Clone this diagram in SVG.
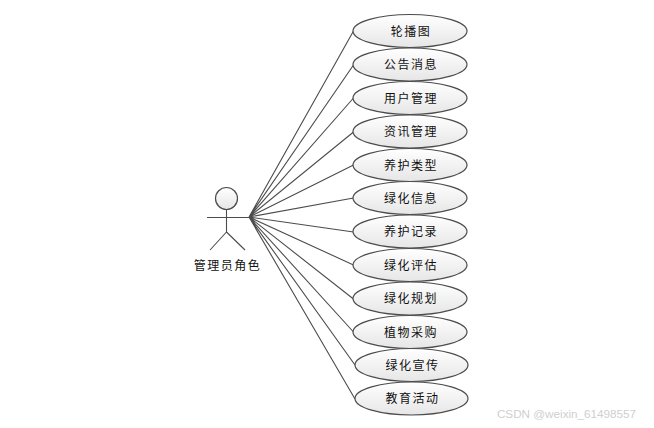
<svg xmlns="http://www.w3.org/2000/svg" width="654" height="428" viewBox="0 0 654 428">
<style>
.u{fill:url(#g);stroke:#4c4c4c;stroke-width:1.2}
.l{stroke:#4c4c4c;stroke-width:1.1;fill:none}
text{font-family:"Noto Sans CJK SC","Liberation Sans",sans-serif;font-size:12px;letter-spacing:1.5px;text-anchor:middle;fill:#111}
</style>
<defs>
<linearGradient id="g" x1="0" y1="0" x2="0" y2="1"><stop offset="0" stop-color="#ffffff"/><stop offset="1" stop-color="#e6e6e6"/></linearGradient>
</defs>
<rect width="654" height="428" fill="#fff"/>
<g id="connectors" class="l">
<path d="M249 217L353.500 31M249 217L353.500 65M249 217L353.500 98M249 217L353.500 132M249 217L353.500 165M249 217L353.500 198M249 217L353.500 232M249 217L353.500 265M249 217L353.500 299M249 217L353.500 332M249 217L355 365M249 217L355 399"/>
</g>
<g id="actor">
<circle class="u" cx="226.500" cy="198.500" r="11"/>
<path class="l" d="M226.500 210V232M207 217.500H249M226.500 232L210 250M226.500 232L245 250"/>
<text x="227.500" y="270">管理员角色</text>
</g>
<g id="n1"><ellipse class="u" cx="410" cy="31" rx="57" ry="16.500"/><text x="411" y="36">轮播图</text></g>
<g id="n2"><ellipse class="u" cx="410" cy="64.500" rx="57" ry="16.500"/><text x="411" y="69">公告消息</text></g>
<g id="n3"><ellipse class="u" cx="410" cy="98" rx="57" ry="16.500"/><text x="411" y="103">用户管理</text></g>
<g id="n4"><ellipse class="u" cx="410" cy="131.500" rx="57" ry="16.500"/><text x="411" y="136">资讯管理</text></g>
<g id="n5"><ellipse class="u" cx="410" cy="165" rx="57" ry="16.500"/><text x="411" y="170">养护类型</text></g>
<g id="n6"><ellipse class="u" cx="410" cy="198" rx="57" ry="16.500"/><text x="411" y="203">绿化信息</text></g>
<g id="n7"><ellipse class="u" cx="410" cy="231.500" rx="57" ry="16.500"/><text x="411" y="236">养护记录</text></g>
<g id="n8"><ellipse class="u" cx="410" cy="265" rx="57" ry="16.500"/><text x="411" y="270">绿化评估</text></g>
<g id="n9"><ellipse class="u" cx="410" cy="298.500" rx="57" ry="16.500"/><text x="411" y="303">绿化规划</text></g>
<g id="n10"><ellipse class="u" cx="410" cy="332" rx="57" ry="16.500"/><text x="411" y="337">植物采购</text></g>
<g id="n11"><ellipse class="u" cx="411.500" cy="365" rx="56.500" ry="16.500"/><text x="412.500" y="370">绿化宣传</text></g>
<g id="n12"><ellipse class="u" cx="411.500" cy="398.500" rx="56.500" ry="16.500"/><text x="412.500" y="403">教育活动</text></g>
<text x="566.500" y="418" style="font-family:'Liberation Sans',sans-serif;font-size:11.7px;letter-spacing:0;fill:#cfcfcf">CSDN @weixin_61498557</text>
</svg>
